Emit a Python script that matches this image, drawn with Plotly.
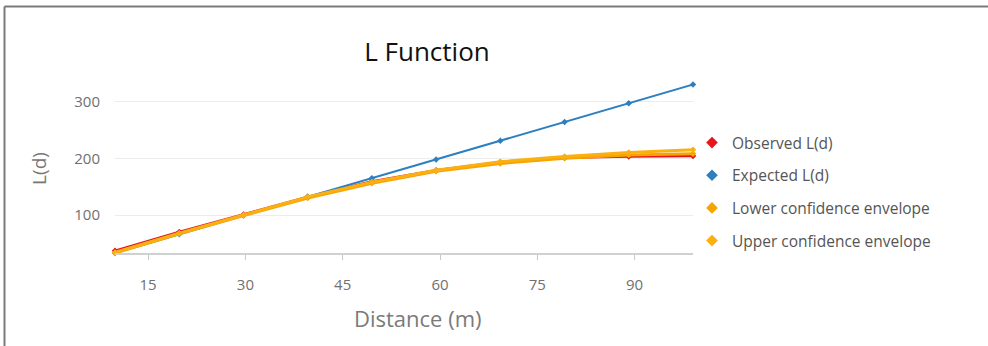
import plotly.graph_objects as go

distance = [9.9, 19.8, 29.7, 39.6, 49.5, 59.4, 69.3, 79.2, 89.1, 99.0]
observed = [37, 70, 101, 132, 159, 179, 193, 201, 203, 204]
expected = [33, 66, 99, 132, 165, 198, 231, 264, 297, 330]
lower_env = [33, 67, 99, 130, 156, 177, 191, 200, 206, 208]
upper_env = [34, 68, 100, 132, 158, 179, 194, 203, 210, 215]

x_ticks = [15, 30, 45, 60, 75, 90]
y_ticks = [100, 200, 300]

series = [
    ("Observed L(d)", observed, "#e3171d", 2.5),
    ("Expected L(d)", expected, "#2e7fbf", 2),
    ("Lower confidence envelope", lower_env, "#f7a400", 3),
    ("Upper confidence envelope", upper_env, "#fbb012", 3),
]

FONT = "Open Sans"
fig = go.Figure()
for i, (name, vals, color, w) in enumerate(series):
    fig.add_trace(go.Scatter(
        x=distance, y=vals, name=name, mode="lines+markers",
        line=dict(color=color, width=w),
        marker=dict(color=color, size=5, symbol="diamond"),
        cliponaxis=False, showlegend=False,
    ))
# legend entries (marker-only symbols, as in the reference legend)
for i, (name, vals, color, w) in enumerate(series):
    fig.add_trace(go.Scatter(
        x=[None], y=[None], name=name, mode="markers",
        marker=dict(color=color, size=9, symbol="diamond"),
        showlegend=True, legendgroup=f"g{i}",
    ))

W, H = 988, 346
L, R, T, B = 115, 295, 84, 93
pw, ph = W - L - R, H - T - B

def px_x(px):
    return (px - L) / pw

def px_y(py):
    return (H - B - py) / ph

fig.update_layout(
    width=W, height=H,
    margin=dict(l=L, r=R, t=T, b=B),
    paper_bgcolor="white", plot_bgcolor="white",
    font=dict(family=FONT, color="#666666", size=15),
    title=dict(text="L Function", x=427 / W, xref="container", xanchor="center",
               y=1 - 52 / H, yanchor="middle", yref="container",
               font=dict(size=26, color="#111111", family=FONT)),
    showlegend=True,
    legend=dict(x=px_x(692), y=px_y(126), xanchor="left", yanchor="top",
                font=dict(size=15.5, color="#555555"), tracegroupgap=9.5,
                bgcolor="rgba(0,0,0,0)"),
    xaxis=dict(range=[9.9, 99.0], tickvals=x_ticks, showgrid=False,
               showline=True, linecolor="#d0d0d0", linewidth=1.5,
               ticks="outside", ticklen=5, tickcolor="#c8c8c8",
               ticklabelstandoff=12, tickfont=dict(size=15, color="#707070"),
               zeroline=False),
    yaxis=dict(range=[33, 331], tickvals=y_ticks, showgrid=True,
               gridcolor="#ececec", gridwidth=1, showline=False, zeroline=False,
               ticks="", ticklabelstandoff=14, tickfont=dict(size=15, color="#707070"),
               title=dict(text="L(d)", font=dict(size=19, color="#777777"), standoff=22)),
    annotations=[
        dict(text="Distance (m)", xref="paper", yref="paper", x=px_x(418), y=px_y(318),
             xanchor="center", yanchor="middle", showarrow=False,
             font=dict(size=22, color="#7a7a7a", family=FONT)),
    ],
    shapes=[
        dict(type="line", xref="paper", yref="paper", x0=px_x(4.5), x1=px_x(988),
             y0=px_y(6.5), y1=px_y(6.5), line=dict(color="#7a7a7a", width=2)),
        dict(type="line", xref="paper", yref="paper", x0=px_x(4.5), x1=px_x(4.5),
             y0=px_y(6.5), y1=px_y(346), line=dict(color="#7a7a7a", width=2)),
    ],
)

fig.write_html(
    "out.html",
    config={"displayModeBar": False},
    post_script="document.body.style.margin='0';document.body.style.overflow='hidden';",
)
